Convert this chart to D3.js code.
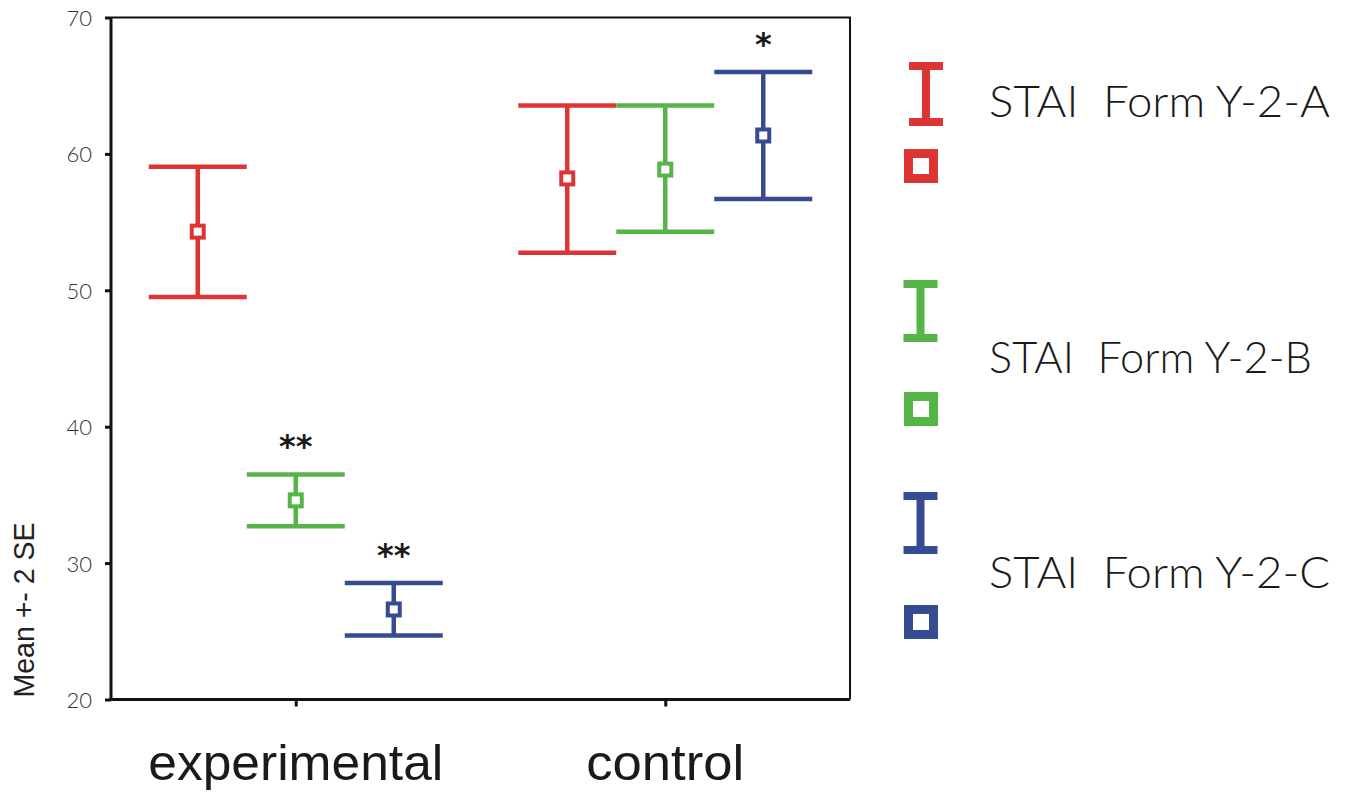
<!DOCTYPE html>
<html>
  <head>
    <meta charset="UTF-8">
    <title>STAI means +- 2 SE</title>
    <script src="https://cdn.jsdelivr.net/npm/d3@7"></script>
    <style>
      body, html { margin:0; padding:0; background:#fff; }
      svg { display:block; }
      .tick text { font-family: Lato, "DejaVu Sans", sans-serif; fill:#333; font-weight:300; }
      .narrow { font-family: "Liberation Sans Narrow", "Liberation Sans", sans-serif; }
    </style>
  </head>
  <body>
  <div id="chart"></div>
<script type="text/javascript">

  // data
  var groups = ['experimental', 'control'];
  var series = ['STAI  Form Y-2-A', 'STAI  Form Y-2-B', 'STAI  Form Y-2-C'];
  var colors = ['#dd3533', '#56b449', '#364b92'];
  var yTicks = [20, 30, 40, 50, 60, 70];

  // one array per series, index = group
  var meanA = [54.3, 58.2],  lowA = [49.5, 52.75], highA = [59.05, 63.55];
  var meanB = [34.6, 58.85], lowB = [32.7, 54.3],  highB = [36.5, 63.55];
  var meanC = [26.6, 61.35], lowC = [24.7, 56.7],  highC = [28.55, 66.0];
  var starsA = ['', ''], starsB = ['**', ''], starsC = ['**', '*'];

  var means = [meanA, meanB, meanC],
      lows  = [lowA, lowB, lowC],
      highs = [highA, highB, highC],
      stars = [starsA, starsB, starsC];

  var W = 1346, H = 792;
  var plot = { left: 111, right: 850, top: 17.5, bottom: 699.5 };
  var capW = 98;

  var svg = d3.select('#chart').append('svg').attr('width', W).attr('height', H);

  var x = d3.scalePoint().domain(groups).range([plot.left, plot.right]).padding(0.5);
  var xs = d3.scalePoint().domain(d3.range(series.length)).range([-capW, capW]);
  var y = d3.scaleLinear().domain([20, 70]).range([plot.bottom, plot.top]);

  // frame: thin top / right, heavier axes
  svg.append('path')
    .attr('d', 'M' + plot.left + ',' + plot.top + 'H' + plot.right + 'V' + plot.bottom)
    .attr('fill', 'none').attr('stroke', '#111').attr('stroke-width', 2);

  var yAxis = svg.append('g').attr('transform', 'translate(' + plot.left + ',0)')
    .call(d3.axisLeft(y).tickValues(yTicks).tickSize(6).tickPadding(13));
  var xAxis = svg.append('g').attr('transform', 'translate(0,' + plot.bottom + ')')
    .call(d3.axisBottom(x).tickSize(7).tickFormat(''));
  [yAxis, xAxis].forEach(function(a) {
    a.select('.domain').attr('stroke', '#111').attr('stroke-width', 3);
    a.selectAll('.tick line').attr('stroke', '#111').attr('stroke-width', 3);
  });
  yAxis.select('.domain').attr('d', 'M0,' + plot.top + 'V' + (plot.bottom + 1.5));
  xAxis.select('.domain').attr('d', 'M' + (plot.left - 1.5) + ',0H' + plot.right);
  yAxis.selectAll('.tick text').attr('font-size', 22).attr('dy', '0.36em');

  // group labels
  svg.selectAll('text.group').data(groups).enter().append('text')
    .attr('class', 'group narrow')
    .attr('x', function(d) { return x(d); })
    .attr('y', 780)
    .attr('text-anchor', 'middle')
    .attr('font-size', 50)
    .attr('fill', '#1a1a1a')
    .attr('textLength', function(d, i) { return i == 0 ? 295 : 158; })
    .attr('lengthAdjust', 'spacingAndGlyphs')
    .text(function(d) { return d; });

  // y axis title
  svg.append('text')
    .attr('class', 'narrow')
    .attr('transform', 'translate(34,610) rotate(-90)')
    .attr('text-anchor', 'middle')
    .attr('font-size', 30)
    .attr('fill', '#222')
    .attr('textLength', 175)
    .attr('lengthAdjust', 'spacingAndGlyphs')
    .text('Mean +- 2 SE');

  // error bars
  var rows = [];
  series.forEach(function(s, si) {
    groups.forEach(function(g, gi) {
      rows.push({ s: si, g: g, mean: means[si][gi], lo: lows[si][gi], hi: highs[si][gi], star: stars[si][gi] });
    });
  });

  var bar = svg.selectAll('g.bar').data(rows).enter().append('g')
    .attr('class', 'bar')
    .attr('transform', function(d) { return 'translate(' + (x(d.g) + xs(d.s)) + ',0)'; })
    .attr('stroke', function(d) { return colors[d.s]; });

  bar.append('line')
    .attr('y1', function(d) { return y(d.hi); })
    .attr('y2', function(d) { return y(d.lo); })
    .attr('stroke-width', 4.5);
  bar.selectAll('line.cap').data(function(d) { return [d.hi, d.lo]; }).enter().append('line')
    .attr('class', 'cap')
    .attr('x1', -capW / 2).attr('x2', capW / 2)
    .attr('y1', function(v) { return y(v); })
    .attr('y2', function(v) { return y(v); })
    .attr('stroke-width', 4.5);
  bar.append('rect')
    .attr('x', -6).attr('width', 12).attr('height', 12)
    .attr('y', function(d) { return y(d.mean) - 6; })
    .attr('fill', '#fff')
    .attr('stroke-width', 4);

  bar.append('text')
    .attr('y', function(d) { return y(d.hi) - 17; })
    .attr('text-anchor', 'middle')
    .attr('stroke', 'none')
    .attr('fill', '#1a1a1a')
    .attr('font-family', '"DejaVu Sans", sans-serif')
    .attr('font-weight', 'bold')
    .attr('font-size', 32)
    .text(function(d) { return d.star; });

  // legend
  var legendLayout = [
    { ix: 926, iy: [62, 126], sy: 149, ty: 117 },
    { ix: 920.5, iy: [280, 342], sy: 392, ty: 373 },
    { ix: 920.5, iy: [492, 554], sy: 605, ty: 588 }
  ];
  var leg = svg.selectAll('g.legend').data(series).enter().append('g')
    .attr('class', 'legend')
    .attr('fill', function(d, i) { return colors[i]; });

  leg.each(function(d, i) {
    var g = d3.select(this), L = legendLayout[i];
    g.append('rect').attr('x', L.ix - 17).attr('width', 34).attr('y', L.iy[0]).attr('height', 8);
    g.append('rect').attr('x', L.ix - 17).attr('width', 34).attr('y', L.iy[1] - 8).attr('height', 8);
    g.append('rect').attr('x', L.ix - 4).attr('width', 8).attr('y', L.iy[0]).attr('height', L.iy[1] - L.iy[0]);
    g.append('rect').attr('x', 908.5).attr('y', L.sy + 4.5).attr('width', 25).attr('height', 25)
      .attr('fill', '#fff').attr('stroke', colors[i]).attr('stroke-width', 9);
    g.append('text')
      .attr('x', 989).attr('y', L.ty)
      .attr('font-family', 'Lato, "DejaVu Sans", sans-serif')
      .attr('font-weight', 300)
      .attr('font-size', 43)
      .attr('fill', '#1a1a1a')
      .attr('textLength', i == 1 ? 323 : 341)
      .attr('lengthAdjust', 'spacingAndGlyphs')
      .style('white-space', 'pre')
      .text(d);
  });

</script>
  </body>
</html>
